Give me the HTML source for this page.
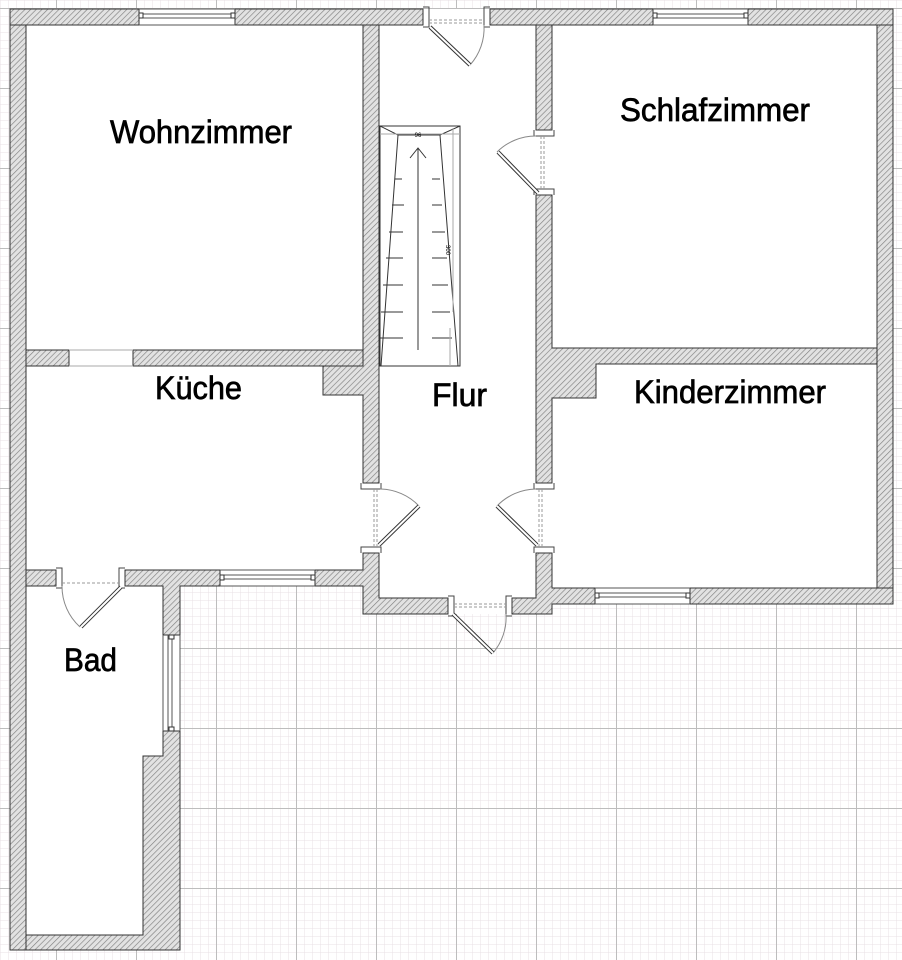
<!DOCTYPE html>
<html><head><meta charset="utf-8"><style>
html,body{margin:0;padding:0;background:#fff}
svg{display:block}
text{font-family:"Liberation Sans",Arial,sans-serif;fill:#000;stroke:#000;stroke-width:0.7}
</style></head><body>
<svg width="902" height="960" viewBox="0 0 902 960" xmlns="http://www.w3.org/2000/svg">
<defs>
<pattern id="minor" width="8" height="8" patternUnits="userSpaceOnUse" x="0" y="0">
<path d="M0 0H8M0 0V8" stroke="#e9e1e6" stroke-width="1" fill="none"/>
</pattern>
<pattern id="major" width="80" height="80" patternUnits="userSpaceOnUse" x="56" y="8">
<path d="M0 0.5H80M0.5 0V80" stroke="#bdbdbd" stroke-width="1" fill="none"/>
</pattern>
<pattern id="hatch" width="4" height="4" patternUnits="userSpaceOnUse" patternTransform="rotate(45)">
<rect width="4" height="4" fill="#e2e2e2"/>
<line x1="0" y1="0" x2="0" y2="4" stroke="#808080" stroke-width="1.3"/>
</pattern>
</defs>
<rect width="902" height="960" fill="url(#minor)"/>
<rect width="902" height="960" fill="url(#major)"/>

<path d="M10 9H893V604H552V614H363V586H180V950H10Z" fill="#fff"/>

<g fill="url(#hatch)" stroke="#333" stroke-width="1">
<rect x="10" y="9" width="129" height="16"/>
<path d="M235 9H423V25H379V25H235Z"/>
<path d="M490 9H653V25H490Z"/>
<path d="M748 9H893V25H748Z"/>
<rect x="10" y="25" width="16" height="925"/>
<rect x="877" y="25" width="16" height="579"/>
<path d="M363 25H379V483H363V395H323V366H363Z"/>
<rect x="26" y="350" width="43" height="16"/>
<rect x="133" y="350" width="230" height="16"/>
<path d="M363 553H379V598H448V614H363V586H315V570H363Z"/>
<rect x="536" y="25" width="16" height="105"/>
<path d="M536 195H552V348H877V364H596V398H552V483H536Z"/>
<path d="M536 553H552V588H595V604H552V614H512V598H536Z"/>
<rect x="690" y="588" width="203" height="16"/>
<rect x="26" y="570" width="30" height="16"/>
<path d="M125 570H220V586H180V635H163V586H125Z"/>
<path d="M163 731H180V950H26V935H143V756H163Z"/>
</g>

<g stroke="#555" stroke-width="1" fill="none">
<path d="M139 14H235M139 18H235M139 25H235M139 9H235"/>
<path d="M653 14H748M653 18H748M653 25H748M653 9H748"/>
<path d="M595 593H690M595 597H690M595 588H690M595 604H690"/>
<path d="M220 575H315M220 579H315M220 570H315M220 586H315"/>
<path d="M168 635V731M172 635V731M163 635V731M180 635V731"/>
<path d="M69 350H133M69 366H133" stroke="#aaa"/>
</g>
<g fill="#fff" stroke="#333" stroke-width="1">
<rect x="139" y="13" width="4" height="5"/><rect x="231" y="13" width="4" height="5"/>
<rect x="653" y="13" width="4" height="5"/><rect x="744" y="13" width="4" height="5"/>
<rect x="595" y="593" width="4" height="5"/><rect x="686" y="593" width="4" height="5"/>
<rect x="220" y="575" width="4" height="5"/><rect x="311" y="575" width="4" height="5"/>
<rect x="169" y="635" width="5" height="4"/><rect x="169" y="727" width="5" height="4"/>
</g>

<g stroke="#444" stroke-width="1" fill="none">
<path d="M423 7H429V27H423M490 7H484V27H490"/>
<path d="M534 130V136H554V130M534 195V189H554V195"/>
<path d="M361 483V489H381V483M361 553V547H381V553"/>
<path d="M534 483V489H554V483M534 553V547H554V553"/>
<path d="M448 596H454V616H448M512 596H506V616H512"/>
<path d="M56 568H62V588H56M125 568H119V588H125"/>
<path d="M429 20H484M429 23H484" stroke-dasharray="3,2" stroke="#999"/>
<path d="M541 136V189M544 136V189" stroke-dasharray="3,2" stroke="#999"/>
<path d="M374 489V547M377 489V547" stroke-dasharray="3,2" stroke="#999"/>
<path d="M539 489V547M542 489V547" stroke-dasharray="3,2" stroke="#999"/>
<path d="M454 604H506M454 607H506" stroke-dasharray="3,2" stroke="#999"/>
<path d="M62 583H119" stroke-dasharray="3,2" stroke="#999"/>
<path d="M470 65A55 55 0 0 0 484 25" stroke="#888"/>
<path d="M497 152A55 55 0 0 1 536 136" stroke="#888"/>
<path d="M419 506A55 55 0 0 0 380 489" stroke="#888"/>
<path d="M497 506A55 55 0 0 1 536 489" stroke="#888"/>
<path d="M493 653A55 55 0 0 0 506 614" stroke="#888"/>
<path d="M80 627A55 55 0 0 1 62 586" stroke="#888"/>
</g>
<g stroke="#333" stroke-width="4">
<line x1="430" y1="27" x2="470" y2="65"/>
<line x1="538" y1="193" x2="498" y2="152"/>
<line x1="379" y1="545" x2="419" y2="506"/>
<line x1="537" y1="545" x2="497" y2="506"/>
<line x1="453" y1="614" x2="493" y2="653"/>
<line x1="121" y1="587" x2="81" y2="627"/>
</g>
<g stroke="#fff" stroke-width="2">
<line x1="430" y1="27" x2="470" y2="65"/>
<line x1="538" y1="193" x2="498" y2="152"/>
<line x1="379" y1="545" x2="419" y2="506"/>
<line x1="537" y1="545" x2="497" y2="506"/>
<line x1="453" y1="614" x2="493" y2="653"/>
<line x1="121" y1="587" x2="81" y2="627"/>
</g>

<g stroke="#333" stroke-width="1" fill="none">
<rect x="380" y="126" width="80" height="240"/>
<path d="M380 126L398 135H440L460 126"/>
<path d="M380 134H460" stroke="#aaa"/>
<path d="M398 135L381 366M440 135L458 366"/>
<path d="M395 179H402M432 179H440 M392 205H404M432 205H442 M389 232H403M432 232H445 M386 258H403M432 258H447 M383 285H403M432 285H448 M381 312H403M432 312H450 M380 338H403M432 338H452"/>
<path d="M418 350V148M410 158L418 148L426 158"/>
<path d="M453 128V312M450 328V366" stroke="#aaa"/>
</g>
<text x="418" y="137" font-size="6" text-anchor="middle" style="stroke:none">96</text>
<text x="446" y="250" font-size="6" text-anchor="middle" transform="rotate(90 446 250)" style="stroke:none">300</text>

<text x="110" y="143" font-size="32" textLength="182" lengthAdjust="spacingAndGlyphs">Wohnzimmer</text>
<text x="620" y="121" font-size="32" textLength="190" lengthAdjust="spacingAndGlyphs">Schlafzimmer</text>
<text x="155" y="399" font-size="32" textLength="87" lengthAdjust="spacingAndGlyphs">Küche</text>
<text x="432" y="406" font-size="32" textLength="55" lengthAdjust="spacingAndGlyphs">Flur</text>
<text x="634" y="403" font-size="32" textLength="192" lengthAdjust="spacingAndGlyphs">Kinderzimmer</text>
<text x="64" y="671" font-size="32" textLength="53" lengthAdjust="spacingAndGlyphs">Bad</text>
</svg>
</body></html>
